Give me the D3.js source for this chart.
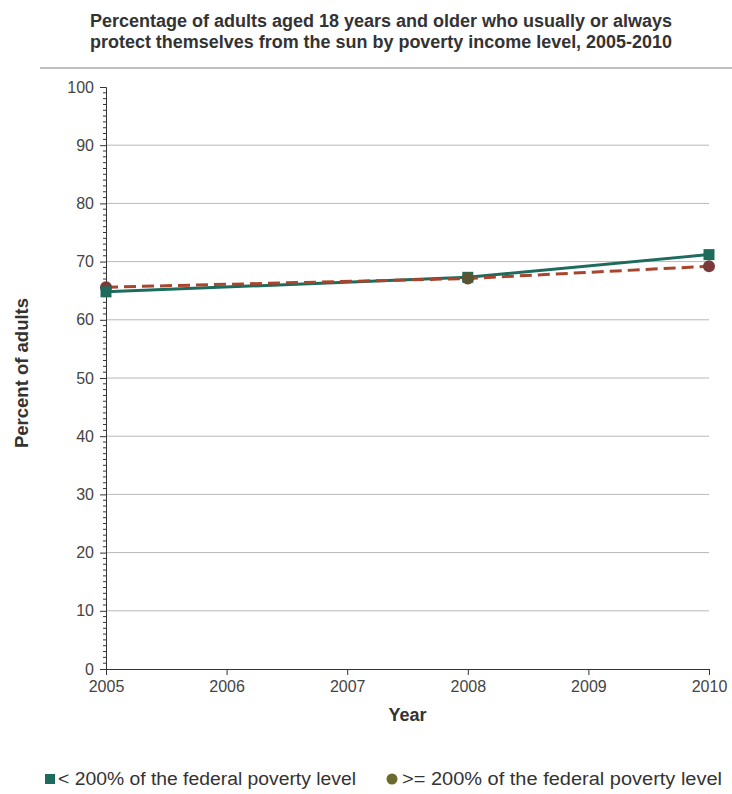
<!DOCTYPE html>
<html><head><meta charset="utf-8">
<script src="https://cdn.jsdelivr.net/npm/d3@7"></script>
<style>body{margin:0;background:#fff;}svg{display:block;font-family:"Liberation Sans",Arial,sans-serif;}</style>
</head><body>
<svg id="c" width="732" height="794"></svg>
<script>
const years = [2005, 2008, 2010];
const below200 = [64.8, 67.3, 71.2];
const atOrAbove200 = [65.6, 67.1, 69.2];
const yTicks = [0,10,20,30,40,50,60,70,80,90,100];
const xTicks = [2005,2006,2007,2008,2009,2010];
const seriesNames = ["< 200% of the federal poverty level", ">= 200% of the federal poverty level"];
const titleLines = ["Percentage of adults aged 18 years and older who usually or always","protect themselves from the sun by poverty income level, 2005-2010"];

const svg = d3.select("#c");
const m = {l:106, r:23, t:87, b:125};
const W = 732, H = 794;
const x = d3.scaleLinear().domain([2005,2010]).range([m.l, W-m.r]);
const y = d3.scaleLinear().domain([0,100]).range([H-m.b, m.t]);

svg.append("g").selectAll("text").data(titleLines).join("text")
  .attr("x", 381).attr("y",(d,i)=>27+i*21).attr("text-anchor","middle")
  .attr("font-size",18).attr("font-weight","bold").attr("fill","#333")
  .attr("textLength",582).attr("lengthAdjust","spacingAndGlyphs").text(d=>d);
svg.append("line").attr("x1",40).attr("x2",732).attr("y1",68).attr("y2",68).attr("stroke","#aaa").attr("stroke-width",1.5);

// gridlines
svg.append("g").selectAll("line").data(yTicks.filter(d=>d>0&&d<100)).join("line")
  .attr("x1",x(2005)).attr("x2",x(2010)).attr("y1",d=>y(d)).attr("y2",d=>y(d))
  .attr("stroke","#b8b8b8").attr("stroke-width",1);

// y axis
const ya = svg.append("g").attr("transform",`translate(${x(2005)},0)`)
  .call(d3.axisLeft(y).tickValues(yTicks).tickSize(6).tickPadding(6));
ya.select(".domain").attr("stroke","#333");
ya.selectAll(".tick line").attr("stroke","#333");
ya.selectAll("text").attr("font-size",16).attr("fill","#444").attr("font-family","Liberation Sans, Arial");
const minor = d3.range(0,101).filter(d=>d%10!==0);
ya.append("g").selectAll("line").data(minor).join("line")
  .attr("x1",-3).attr("x2",0).attr("y1",d=>y(d)).attr("y2",d=>y(d)).attr("stroke","#333");

// x axis
const xa = svg.append("g").attr("transform",`translate(0,${y(0)})`)
  .call(d3.axisBottom(x).tickValues(xTicks).tickFormat(d3.format("d")).tickSize(6).tickSizeOuter(0).tickPadding(6));
xa.select(".domain").attr("stroke","#333");
xa.selectAll(".tick line").attr("stroke","#333");
xa.selectAll("text").attr("font-size",16).attr("fill","#444").attr("font-family","Liberation Sans, Arial");

svg.append("text").attr("x",(x(2005)+x(2010))/2).attr("y",721).attr("text-anchor","middle")
  .attr("font-size",18).attr("font-weight","bold").attr("fill","#333").text("Year");
svg.append("text").attr("transform",`translate(28,${y(50)-5}) rotate(-90)`).attr("text-anchor","middle")
  .attr("font-size",18.5).attr("font-weight","bold").attr("fill","#333").text("Percent of adults");

const line = d3.line().x((d,i)=>x(years[i])).y(d=>y(d));
svg.append("path").datum(below200).attr("d",line).attr("fill","none").attr("stroke","#1d6b5c").attr("stroke-width",3);
svg.append("path").datum(atOrAbove200).attr("d",line).attr("fill","none").attr("stroke","#a8452e").attr("stroke-width",3).attr("stroke-dasharray","12,6");

svg.append("g").selectAll("circle").data(atOrAbove200).join("circle")
  .attr("cx",(d,i)=>x(years[i])).attr("cy",d=>y(d)).attr("r",6).attr("fill","#7a3a3a");
svg.append("g").selectAll("rect").data(below200).join("rect")
  .attr("x",(d,i)=>x(years[i])-5.5).attr("y",d=>y(d)-5.5).attr("width",11).attr("height",11).attr("fill","#1d6b5c");
// 2008 markers overlap -> olive
svg.append("g").selectAll("circle").data(years.filter(d=>d===2008)).join("circle")
  .attr("cx",d=>x(d)).attr("cy",y(67.2)).attr("r",6).attr("fill","#5a5530");

// legend
svg.append("rect").attr("x",45).attr("y",774).attr("width",10).attr("height",10).attr("fill","#1d6b5c");
svg.append("text").attr("x",58).attr("y",785).attr("font-size",18).attr("fill","#333")
  .attr("textLength",298).attr("lengthAdjust","spacingAndGlyphs").text(seriesNames[0]);
svg.append("circle").attr("cx",392).attr("cy",779).attr("r",5.5).attr("fill","#6b6a2e");
svg.append("text").attr("x",402).attr("y",785).attr("font-size",18).attr("fill","#333")
  .attr("textLength",320).attr("lengthAdjust","spacingAndGlyphs").text(seriesNames[1]);
</script>
</body></html>
